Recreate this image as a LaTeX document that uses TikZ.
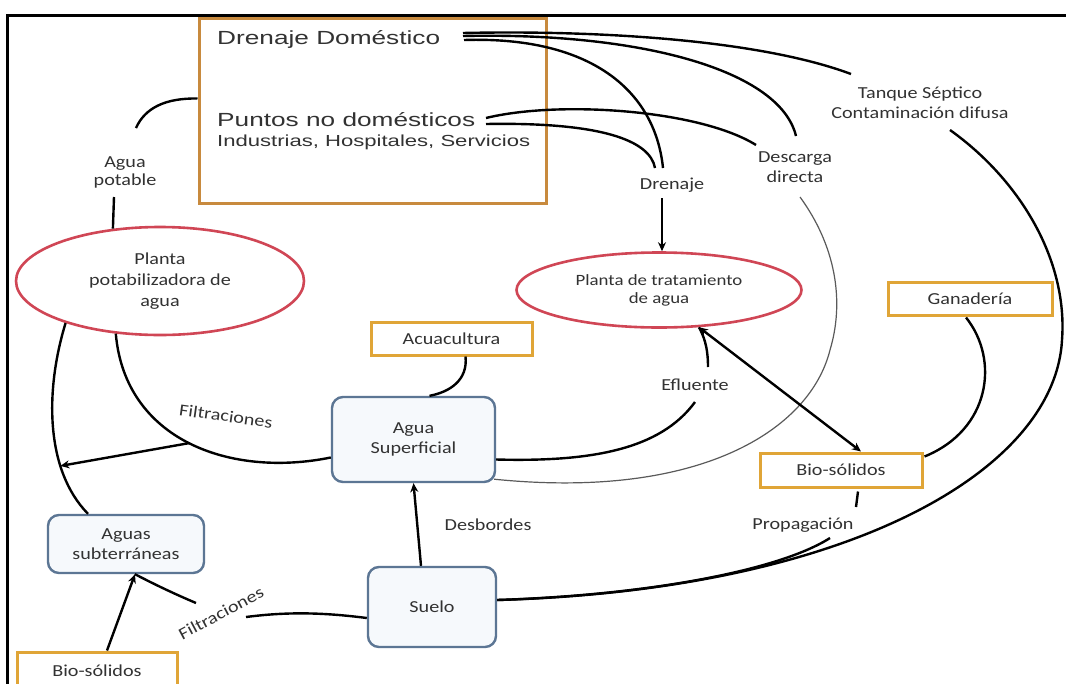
\documentclass[tikz,border=0pt]{standalone}
\usepackage{fontspec}
\usetikzlibrary{shapes.geometric,arrows.meta,calc}
\newfontfamily\arw[FakeStretch=1.38]{Liberation Sans}
\newfontfamily\calw[FakeStretch=1.2]{Carlito}
\definecolor{boxorange}{RGB}{200,138,62}
\definecolor{smallorange}{RGB}{224,165,55}
\definecolor{ellred}{RGB}{208,70,85}
\definecolor{bluegray}{RGB}{92,118,148}
\definecolor{bluefill}{RGB}{246,249,252}
\definecolor{txt}{RGB}{50,50,50}
\definecolor{thinc}{RGB}{90,90,90}
\begin{document}
\begin{tikzpicture}[x=1pt,y=-1pt,
  lbl/.style={font=\calw\fontsize{16.8}{20}\selectfont, text=txt, inner sep=0pt, align=center},
  big/.style={font=\arw\fontsize{19}{22}\selectfont, text=txt, inner sep=0pt, anchor=base west},
  bigbox/.style={draw=boxorange, line width=3pt, fill=white, inner sep=0pt},
  obox/.style={draw=smallorange, line width=3pt, fill=white, inner sep=0pt, font=\calw\fontsize{16.8}{20}\selectfont, text=txt},
  rbox/.style={draw=bluegray, line width=2.4pt, fill=bluefill, rounded corners=11pt, inner sep=0pt, align=center, font=\calw\fontsize{16.8}{20}\selectfont, text=txt},
  oval/.style={ellipse, draw=ellred, line width=2.6pt, fill=white, inner sep=0pt, align=center, font=\calw\fontsize{16.8}{21}\selectfont, text=txt},
  conn/.style={line width=2.4pt, draw=black},
  thinline/.style={line width=1.2pt, draw=thinc},
  tip/.tip={Stealth[length=9pt,width=8pt]},
  arr/.style={conn, -tip},
  dbl/.style={conn, tip-tip}]
\clip (0,0) rectangle (1066,683);
\fill[white] (0,0) rectangle (1066,683);
% frame
\draw[line width=3pt] (7,690) -- (7,15) -- (1070,15);

% main box and its texts
\node[bigbox, minimum width=347pt, minimum height=185pt] (house) at (372.5,110.5) {};
\node[big] (dd) at (217,44) {Drenaje Doméstico};
\node[big] (pnd) at (217,126) {Puntos no domésticos};
\node[big, font=\arw\fontsize{16}{19}\selectfont] (ihs) at (217,146) {Industrias, Hospitales, Servicios};

% ellipses
\node[oval, minimum width=288pt, minimum height=108pt] (potab) at (160,281) {Planta\\potabilizadora de\\agua};
\node[oval, minimum width=285pt, minimum height=75pt, font=\calw\fontsize{15.7}{18}\selectfont] (ptar) at (659,290) {Planta de tratamiento\\de agua};

% orange boxes
\node[obox, minimum width=161pt, minimum height=33pt] (acua) at (451.5,338.5) {Acuacultura};
\node[obox, minimum width=164pt, minimum height=33pt] (gan) at (970,298.5) {Ganadería};
\node[obox, minimum width=162pt, minimum height=34pt] (bio2) at (841,470) {Bio-sólidos};
\node[obox, minimum width=160pt, minimum height=38pt] (bio1) at (97,671) {Bio-sólidos};

% rounded boxes
\node[rbox, minimum width=163pt, minimum height=85pt] (asup) at (413.5,439.5) {Agua\\Superficial};
\node[rbox, minimum width=156pt, minimum height=58pt] (asub) at (126,544) {Aguas\\subterráneas};
\node[rbox, minimum width=128pt, minimum height=80pt] (suelo) at (432,607) {Suelo};

% labels
\node[lbl, font=\calw\fontsize{16.8}{18}\selectfont] (apot) at (125,172) {Agua\\potable};
\node[lbl] (drn) at (672,185) {Drenaje};
\node[lbl] (desc) at (795,167) {Descarga\\directa};
\node[lbl] (tank) at (920,103) {Tanque Séptico\\Contaminación difusa};
\node[lbl] (efl) at (695,385) {Efluente};
\node[lbl] (desb) at (488,525) {Desbordes};
\node[lbl] (prop) at (803,525) {Propagación};
\node[lbl, rotate=-8] (filt1) at (226,416) {Filtraciones};
\node[lbl, rotate=28] (filt2) at (221,613) {Filtraciones};

% free ends near labels
\coordinate (ddA) at (463,33);
\coordinate (ddB) at (463,36);
\coordinate (ddC) at (464,40);
\coordinate (pA) at (486,118);
\coordinate (pB) at (486,124);
\coordinate (tankIn) at (851,74);
\coordinate (descIn1) at (796,136);
\coordinate (descIn2) at (756,145);
\coordinate (drnIn1) at (663,168);
\coordinate (drnIn2) at (655,168);
\coordinate (drnOut) at (662,198);
\coordinate (tankOut) at (950,130);
\coordinate (descOut) at (800,197);
\coordinate (apotIn) at (136,128);
\coordinate (apotOut) at (114,197);
\coordinate (eflUp) at (708,367);
\coordinate (eflDown) at (695,402);
\coordinate (propIn) at (856,507);
\coordinate (propOut) at (830,538);
\coordinate (f2a) at (246,617);
\coordinate (f2b) at (196,603);

% connectors from the houses
\draw[conn] (ddA) .. controls (600,30) and (760,40) .. (tankIn);
\draw[conn] (ddB) .. controls (640,32) and (780,70) .. (descIn1);
\draw[conn] (ddC) .. controls (590,36) and (655,90) .. (drnIn1);
\draw[conn] (pA) .. controls (560,100) and (700,110) .. (descIn2);
\draw[conn] (pB) .. controls (600,122) and (650,140) .. (drnIn2);
\draw[arr] (drnOut) -- (drnOut |- ptar.north);

% big outer arc and propagation
\draw[conn] (tankOut) .. controls (1020,180) and (1068,260) .. (1062,340)
  .. controls (1055,470) and (850,590) .. ($(suelo.east)+(0,-7)$);
\draw[conn] (propOut) .. controls (780,570) and (650,595) .. ($(suelo.east)+(0,-7)$);
\draw[conn] ($(bio2.south)+(17,3)$) -- (propIn);
\draw[conn] ($(gan.south)+(-4,1)$) .. controls (1000,360) and (990,430) .. ($(bio2.north east)+(1,5)$);

% direct discharge (thin)
\draw[thinline] (descOut) .. controls (835,245) and (845,300) .. (830,350)
  .. controls (810,430) and (700,500) .. ($(asup.south east)+(-2,-4)$);

% treatment plant
\draw[dbl] (ptar.-43) -- ($(bio2.north)+(20,0)$);
\draw[conn] (eflUp) .. controls (708,345) and (703,335) .. (ptar.-43);
\draw[conn] (eflDown) .. controls (660,450) and (590,462) .. ($(asup.east)+(0,20)$);

% surface water
\draw[conn] ($(acua.south)+(14,0)$) .. controls (468,380) and (450,392) .. ($(asup.north)+(16,0)$);
\draw[arr] ($(suelo.north)+(-11,0)$) -- (asup.south);

% potabilizadora
\draw[conn] (potab.230) .. controls (125,440) and (230,478) .. ($(asup.west)+(0,18)$) coordinate[pos=0.5] (fs);
\draw[conn] (potab.204) .. controls (45,390) and (45,470) .. ($(asub.north)+(-38,0)$) coordinate[pos=0.7] (lt);
\draw[arr] (fs) -- (lt);
\draw[conn] ($(house.west)+(0,-12)$) .. controls (165,98) and (145,108) .. (apotIn);
\draw[conn] (apotOut) -- (potab.132);

% groundwater
\draw[conn] ($(suelo.west)+(0,11)$) .. controls (320,612) and (285,612) .. (f2a);
\draw[conn] (f2b) .. controls (170,592) and (150,582) .. ($(asub.south)+(9,0)$);
\draw[arr] ($(bio1.north)+(10,0)$) -- ($(asub.south)+(9,0)$);
\end{tikzpicture}
\end{document}
